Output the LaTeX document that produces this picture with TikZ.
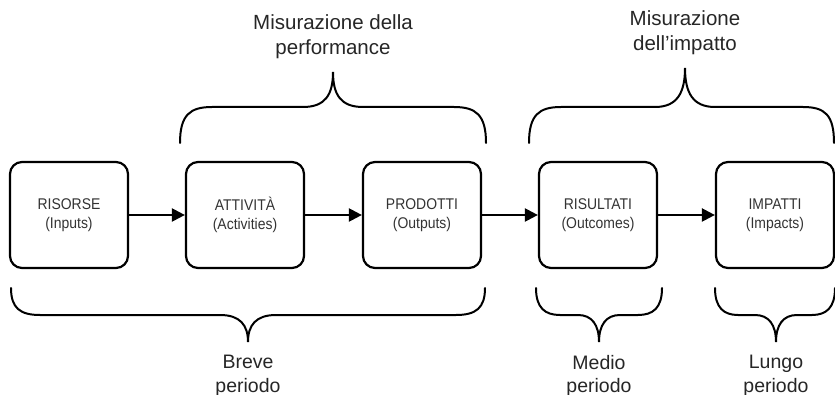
\documentclass[tikz,border=0pt]{standalone}
\usepackage{fontspec}
\setmainfont{Liberation Sans}
\newfontfamily\narrowfont[FakeStretch=0.9]{Liberation Sans}
\usetikzlibrary{arrows.meta}
\begin{document}
\begin{tikzpicture}[x=1pt,y=-1pt,
  box/.style={draw, line width=2.2pt, rounded corners=12pt, minimum width=118pt, minimum height=106pt, align=center, inner sep=0pt, font=\narrowfont\fontsize{15.5}{19}\selectfont, text=black!80},
  arr/.style={line width=2.2pt, -{Triangle[length=13pt,width=13pt]}},
  brace/.style={line width=2pt, line cap=round},
  lbl/.style={align=center, inner sep=0pt, font=\fontsize{20.5}{25}\selectfont, text=black!85},
  blbl/.style={align=center, inner sep=0pt, font=\fontsize{19.5}{23.5}\selectfont, text=black!85}]
\useasboundingbox (0,0) rectangle (835,395);
\node[box] (b1) at (69,215) {RISORSE\\(Inputs)};
\node[box] (b2) at (245,215) {ATTIVITÀ\\(Activities)};
\node[box] (b3) at (422,215) {PRODOTTI\\(Outputs)};
\node[box] (b4) at (598,215) {RISULTATI\\(Outcomes)};
\node[box] (b5) at (775,215) {IMPATTI\\(Impacts)};
\draw[arr] (b1) -- (b2);
\draw[arr] (b2) -- (b3);
\draw[arr] (b3) -- (b4);
\draw[arr] (b4) -- (b5);
% top braces
\draw[brace] (180,143) .. controls (180,115) and (190,107) .. (212,107) -- (303,107) .. controls (325,107) and (333,95) .. (333,72) .. controls (333,95) and (341,107) .. (363,107) -- (454,107) .. controls (476,107) and (486,115) .. (486,143);
\draw[brace] (529,143) .. controls (529,115) and (539,107) .. (561,107) -- (655,107) .. controls (677,107) and (685,93) .. (685,68) .. controls (685,93) and (693,107) .. (715,107) -- (803,107) .. controls (825,107) and (834,115) .. (834,143);
% bottom braces
\draw[brace] (11,288) .. controls (11,308) and (20,315) .. (40,315) -- (220,315) .. controls (240,315) and (248,325) .. (248,342) .. controls (248,325) and (256,315) .. (276,315) -- (456,315) .. controls (476,315) and (485,308) .. (485,288);
\draw[brace] (536,288) .. controls (536,308) and (545,315) .. (560,315) -- (578,315) .. controls (592,315) and (599,325) .. (599,342) .. controls (599,325) and (606,315) .. (620,315) -- (638,315) .. controls (653,315) and (662,308) .. (662,288);
\draw[brace] (715,288) .. controls (715,308) and (724,315) .. (738,315) -- (755,315) .. controls (769,315) and (776,325) .. (776,342) .. controls (776,325) and (783,315) .. (797,315) -- (812,315) .. controls (826,315) and (835,308) .. (835,288);
% labels
\node[lbl] (t1) at (333,37) {Misurazione della\\performance};
\node[lbl] (t2) at (685,33) {Misurazione\\dell’impatto};
\node[blbl] (l1) at (248,376) {Breve\\periodo};
\node[blbl] (l2) at (599,376) {Medio\\periodo};
\node[blbl] (l3) at (776,376) {Lungo\\periodo};
\end{tikzpicture}
\end{document}
